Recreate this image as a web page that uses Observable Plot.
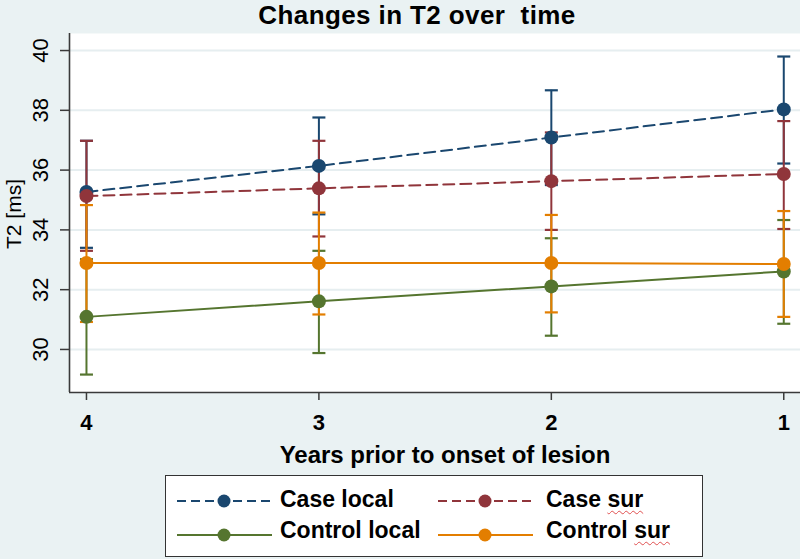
<!DOCTYPE html>
<html>
<head>
<meta charset="utf-8">
<script src="https://cdn.jsdelivr.net/npm/d3@7"></script>
<script src="https://cdn.jsdelivr.net/npm/@observablehq/plot@0.6"></script>
<style>
  html, body { margin: 0; padding: 0; background: #eaf2f3; }
  #wrap { position: relative; width: 800px; height: 559px; background: #eaf2f3; overflow: hidden;
          font-family: "Liberation Sans", Arial, Helvetica, sans-serif; color: #000; }
  #wrap svg.plot { position: absolute; left: 0; top: 0; }
  .abs { position: absolute; white-space: nowrap; line-height: 1; }
  #title { left: 417px; top: 2px; transform: translateX(-50%); font-size: 26px; letter-spacing: 0.4px; font-weight: bold; }
  #xtitle { left: 445px; top: 443px; transform: translateX(-50%); font-size: 24px; font-weight: bold; }
  #ytitle { left: 13px; top: 214px; transform: translate(-50%, -50%) rotate(-90deg); font-size: 21px; }
  #legend { left: 165px; top: 475px; width: 538px; height: 82px; box-sizing: border-box;
            border: 1.5px solid #333; background: #fff; }
  #legend .lab { position: absolute; font-size: 23px; font-weight: bold; line-height: 1; white-space: nowrap; }
  #legend svg { position: absolute; }
  .sp { text-decoration: underline wavy #e05050; text-decoration-thickness: 1px; text-underline-offset: 3px; }
</style>
</head>
<body>
<div id="wrap"></div>
<script>
// ---- data ----
const years = [4, 3, 2, 1];

const caseLocalMean = [35.27, 36.14, 37.09, 38.03];
const caseLocalLo   = [33.40, 34.52, 35.50, 36.22];
const caseLocalHi   = [36.98, 37.76, 38.67, 39.80];

const caseSurMean = [35.13, 35.39, 35.63, 35.87];
const caseSurLo   = [33.30, 33.78, 34.00, 34.03];
const caseSurHi   = [36.98, 36.98, 37.26, 37.64];

const controlLocalMean = [31.09, 31.61, 32.11, 32.61];
const controlLocalLo   = [29.16, 29.88, 30.46, 30.86];
const controlLocalHi   = [33.02, 33.30, 33.72, 34.33];

const controlSurMean = [32.89, 32.89, 32.89, 32.86];
const controlSurLo   = [30.92, 31.17, 31.24, 31.09];
const controlSurHi   = [34.83, 34.58, 34.50, 34.63];

const seriesNames  = ["Case local", "Case sur", "Control local", "Control sur"];
const seriesColors = ["#1a476f", "#90353b", "#55752f", "#e37e00"];
const seriesDash   = ["11,6", "11,6", null, null];

const yTicks = [30, 32, 34, 36, 38, 40];
const xDomain = [4.073, 0.928];
const yDomain = [28.56, 40.57];

// ---- build table ----
const means = [caseLocalMean, caseSurMean, controlLocalMean, controlSurMean];
const los   = [caseLocalLo, caseSurLo, controlLocalLo, controlSurLo];
const his   = [caseLocalHi, caseSurHi, controlLocalHi, controlSurHi];
const rows = [];
seriesNames.forEach((s, i) => years.forEach((yr, j) => rows.push({
  series: s, idx: i, year: yr, mean: means[i][j], lo: los[i][j], hi: his[i][j]
})));

const capSymbol = {
  draw(ctx, size) {
    const r = Math.sqrt(size / Math.PI);
    ctx.moveTo(-r, 0); ctx.lineTo(r, 0);
  }
};

const marks = [
  Plot.frame({fill: "#fff", stroke: "none"}),
  Plot.gridY(yTicks, {stroke: "#e6eef0", strokeOpacity: 1, strokeWidth: 2}),
  Plot.ruleX([xDomain[0]], {stroke: "#3a3a3a", strokeWidth: 1.6}),
  Plot.ruleY([yDomain[0]], {stroke: "#3a3a3a", strokeWidth: 1.6}),
  Plot.axisX({ticks: years, tickSize: 8, tickPadding: 14, tickFormat: d => String(d), fontSize: 22,
              fontWeight: "bold", stroke: "#3a3a3a", strokeWidth: 1.5, fill: "#000", label: null}),
  Plot.axisY({ticks: yTicks, tickSize: 9, tickPadding: 13, tickRotate: -90, fontSize: 22,
              stroke: "#3a3a3a", strokeWidth: 1.5, fill: "#000", label: null})
];
// error bars first (all series), then lines + markers
seriesNames.forEach((s, i) => {
  const d = rows.filter(r => r.idx === i);
  marks.push(Plot.ruleX(d, {x: "year", y1: "lo", y2: "hi", stroke: seriesColors[i], strokeWidth: 2}));
  marks.push(Plot.dot(d, {x: "year", y: "lo", symbol: capSymbol, r: 6.5, stroke: seriesColors[i], strokeWidth: 2.2, fill: "none"}));
  marks.push(Plot.dot(d, {x: "year", y: "hi", symbol: capSymbol, r: 6.5, stroke: seriesColors[i], strokeWidth: 2.2, fill: "none"}));
});
seriesNames.forEach((s, i) => {
  const d = rows.filter(r => r.idx === i);
  marks.push(Plot.line(d, {x: "year", y: "mean", stroke: seriesColors[i], strokeWidth: 2,
                           strokeDasharray: seriesDash[i] || undefined}));
  marks.push(Plot.dot(d, {x: "year", y: "mean", r: 7, fill: seriesColors[i], stroke: "none"}));
});

const chart = Plot.plot({
  width: 800, height: 559,
  marginTop: 33, marginBottom: 167, marginLeft: 69, marginRight: 0,
  x: {type: "linear", domain: xDomain},
  y: {type: "linear", domain: yDomain},
  style: {background: "transparent", fontFamily: "Liberation Sans, Arial, sans-serif", overflow: "visible"},
  marks
});
chart.classList.add("plot");

const wrap = document.getElementById("wrap");
wrap.appendChild(chart);

function addDiv(id, html) {
  const el = document.createElement("div");
  el.id = id; el.className = "abs"; el.innerHTML = html;
  wrap.appendChild(el);
  return el;
}
addDiv("title", "Changes in T2 over&nbsp; time");
addDiv("xtitle", "Years prior to onset of lesion");
addDiv("ytitle", "T2 [ms]");

// legend
const legend = addDiv("legend", "");
const legendLabels = ["Case local", "Case <span class='sp'>sur</span>", "Control local", "Control <span class='sp'>sur</span>"];
const pos = [
  {sx: 10, cy: 25, tx: 114, ty: 12},
  {sx: 271, cy: 25, tx: 380, ty: 12},
  {sx: 10, cy: 59, tx: 114, ty: 43},
  {sx: 271, cy: 59, tx: 380, ty: 43}
];
seriesNames.forEach((s, i) => {
  const p = pos[i];
  const svg = d3.create("svg").attr("width", 97).attr("height", 16)
    .style("left", p.sx + "px").style("top", (p.cy - 8) + "px");
  svg.append("line").attr("x1", 1).attr("x2", 96).attr("y1", 8).attr("y2", 8)
    .attr("stroke", seriesColors[i]).attr("stroke-width", 2)
    .attr("stroke-dasharray", seriesDash[i] ? "9,5" : null);
  svg.append("circle").attr("cx", 48).attr("cy", 8).attr("r", 6.5).attr("fill", seriesColors[i]);
  legend.appendChild(svg.node());
  const lab = document.createElement("div");
  lab.className = "lab";
  lab.style.left = p.tx + "px"; lab.style.top = p.ty + "px";
  lab.innerHTML = legendLabels[i];
  legend.appendChild(lab);
});
</script>
</body>
</html>
